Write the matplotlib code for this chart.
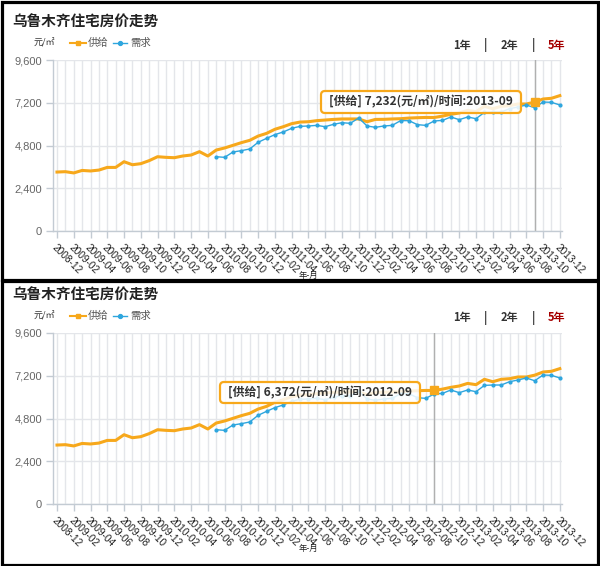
import matplotlib
matplotlib.use("Agg")
import matplotlib.pyplot as plt
from matplotlib.patches import Rectangle, FancyBboxPatch

plt.rcParams["font.family"] = ["Noto Sans CJK SC", "DejaVu Sans"]

W, H = 600, 566
ORANGE = "#f7a81b"
BLUE = "#2ea6de"
GRID = "#e4e6ea"
AXIS = "#c3cbd3"

# monthly labels 2008-12 .. 2013-12
months = [f"{y}-{m:02d}" for y in range(2008, 2014) for m in range(1, 13)][11:]

# 供给 (supply), every month
supply = [
    3310, 3330, 3260, 3400, 3370, 3420, 3570, 3570, 3890, 3720,
    3780, 3950, 4170, 4135, 4115, 4210, 4265, 4455, 4210, 4545,
    4660, 4810, 4960, 5090, 5330, 5480, 5710, 5855, 6025, 6115,
    6135, 6195, 6230, 6265, 6290, 6290, 6290, 6135, 6265, 6270,
    6290, 6305, 6340, 6360, 6375, 6372, 6450, 6550, 6625, 6770,
    6700, 7000, 6865, 7000, 7035, 7130, 7130, 7232, 7410, 7450,
    7600,
]

# 需求 (demand), starts 2010-07
demand_start = 19
demand = [
    4170, 4135, 4435, 4510, 4605, 4980, 5200, 5410, 5560, 5765,
    5875, 5895, 5930, 5855, 5990, 6080, 6045, 6345, 5895, 5820,
    5895, 5930, 6195, 6195, 5970, 5930, 6175, 6210, 6400, 6250,
    6400, 6305, 6660, 6680, 6680, 6865, 6960, 7075, 6920, 7240,
    7225, 7075,
]

y_ticks = [0, 2400, 4800, 7200, 9600]
y_tick_labels = ["0", "2,400", "4,800", "7,200", "9,600"]

# one screenshot per hovered month
hover_months = ["2013-09", "2012-09"]

# layout (pixels): panel offsets and tooltip boxes
panel_dy = [0, 273]
tooltip_boxes = [(321, 91, 200, 22), (220, 109, 200, 21)]

fig = plt.figure(figsize=(W / 100, H / 100), dpi=100)
fig.patch.set_facecolor("white")


def draw_panel(dy, hover_label, tip_box):
    left, right, top, bottom = 53.3, 562, 60 + dy, 231 + dy
    ax = fig.add_axes([left / W, 1 - bottom / H, (right - left) / W, (bottom - top) / H])
    ax.set_xlim(-0.44, 60.26)
    ax.set_ylim(0, 9600)

    ax.set_xticks(range(0, len(months), 2))
    ax.set_xticks(range(len(months)), minor=True)
    ax.set_xticklabels(months[::2], rotation=-45, ha="left", va="top",
                       rotation_mode="anchor", fontsize=7.3,
                       family="Liberation Sans", color="#222")
    ax.set_yticks(y_ticks)
    ax.set_yticklabels(y_tick_labels, fontsize=8, family="Liberation Sans", color="#666")
    ax.tick_params(axis="both", which="major", length=5, color=AXIS, width=1)
    ax.tick_params(axis="x", which="major", pad=3)
    ax.tick_params(axis="x", which="minor", length=0)
    ax.tick_params(axis="y", pad=3)
    ax.grid(which="both", axis="x", color=GRID, lw=1)
    ax.grid(which="major", axis="y", color=GRID, lw=1)
    ax.set_axisbelow(True)
    for side in ("top", "right"):
        ax.spines[side].set_visible(False)
    for side in ("left", "bottom"):
        ax.spines[side].set_color(AXIS)
        ax.spines[side].set_linewidth(1)

    hi = months.index(hover_label)
    ax.axvline(hi, color="#b0b0b0", lw=1, zorder=2)
    ax.plot(range(len(supply)), supply, color=ORANGE, lw=2.2, zorder=3,
            solid_joinstyle="round")
    ax.plot(range(demand_start, demand_start + len(demand)), demand, color=BLUE,
            lw=1, marker="o", ms=2.0, zorder=3)
    ax.plot(hi, supply[hi], marker="s", ms=5.5, color=ORANGE, zorder=4)

    # page decorations in pixel space
    ov.text(12, 22 + dy, "乌鲁木齐住宅房价走势", fontsize=10.5, weight="bold",
            va="center", color="#222")
    ov.text(44, 43 + dy, "元/㎡", fontsize=6.5, ha="center", va="center", color="#333")
    ov.plot([70, 86], [43 + dy] * 2, color=ORANGE, lw=1.5)
    ov.plot(78, 43 + dy, marker="s", ms=3.2, color=ORANGE)
    ov.text(88, 43 + dy, "供给", fontsize=7.5, va="center", color="#555")
    ov.plot([113, 127], [43 + dy] * 2, color=BLUE, lw=1)
    ov.plot(120, 43 + dy, marker="o", ms=2.8, color=BLUE)
    ov.text(130, 43 + dy, "需求", fontsize=7.5, va="center", color="#555")

    for x, s, c in [(462, "1年", "#333"), (486, "|", "#333"), (509, "2年", "#333"),
                    (534, "|", "#333"), (557, "5年", "#a50000")]:
        ov.text(x, 45 + dy, s, fontsize=8, weight="bold", ha="center", va="center", color=c)

    ov.text(308, 275 + dy, "年-月", fontsize=6, ha="center", va="center", color="#222")

    x0, y0, bw, bh = tip_box
    ov.add_patch(FancyBboxPatch((x0, y0 + dy), bw, bh,
                                boxstyle="round,pad=0,rounding_size=4",
                                fc=(1, 1, 1, 0.85), ec=ORANGE, lw=1.6, zorder=5))
    ov.text(x0 + bw / 2, y0 + dy + bh / 2,
            f"[供给] {supply[hi]:,}(元/㎡)/时间:{hover_label}",
            fontsize=8.6, weight="bold", ha="center", va="center", color="#333", zorder=6)


ov = fig.add_axes([0, 0, 1, 1], zorder=10)
ov.set_xlim(0, W)
ov.set_ylim(H, 0)
ov.axis("off")
ov.patch.set_alpha(0)

for dy, label, box in zip(panel_dy, hover_months, tooltip_boxes):
    draw_panel(dy, label, box)

# screenshot frames
ov.add_patch(Rectangle((1.5, 1.5), 596, 278, fill=False, ec="black", lw=2.3))
ov.add_patch(Rectangle((1.5, 281), 596, 283.5, fill=False, ec="black", lw=2.3))

fig.savefig("out.png", dpi=100, facecolor="white")
